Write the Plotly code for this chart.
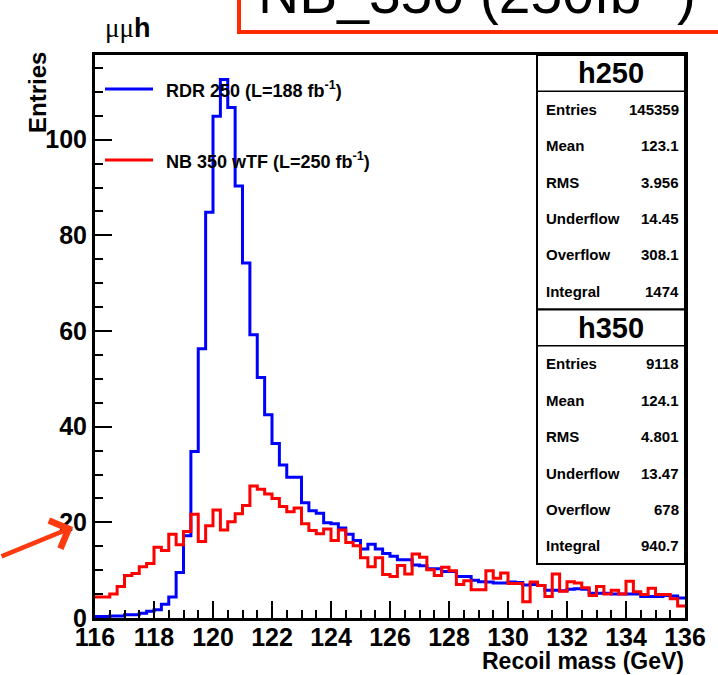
import plotly.graph_objects as go

# ---------------- data ----------------
x_low = 116.0
bin_width = 0.25

h250_rdr = [0.3, 0.3, 0.4, 0.4, 0.7, 0.7, 1.0, 1.4, 1.7, 2.9,
            4.4, 9.5, 17.2, 34.8, 56.3, 84.8, 104.9, 112.6, 106.7, 90.3,
            74.2, 59.2, 50.3, 42.5, 36.5, 32.0, 29.4, 29.4, 24.1, 22.4,
            21.9, 19.9, 19.7, 18.8, 17.5, 16.2, 14.4, 15.4, 14.4, 13.5,
            12.9, 12.2, 12.2, 11.1, 10.9, 10.3, 10.3, 9.7, 9.7, 8.7,
            8.7, 7.9, 7.6, 7.5, 7.3, 7.3, 7.5, 7.4, 6.9, 7.0,
            6.8, 5.8, 5.8, 5.7, 6.0, 6.1, 6.0, 5.2, 5.2, 5.2,
            5.0, 5.0, 5.0, 5.0, 4.5, 4.5, 4.5, 4.7, 4.6, 4.2]

h350_nb = [4.4, 4.4, 5.0, 6.6, 8.9, 9.3, 10.7, 11.4, 14.8, 14.1,
           17.5, 15.3, 18.1, 21.7, 16.0, 19.3, 22.6, 18.4, 20.1, 21.8,
           23.5, 27.6, 26.9, 25.9, 25.0, 23.3, 22.2, 23.0, 19.7, 18.3,
           17.6, 18.6, 16.2, 18.4, 15.8, 15.1, 12.6, 10.7, 12.6, 9.1,
           8.7, 11.0, 9.2, 13.4, 12.7, 10.1, 8.9, 10.6, 9.9, 7.0,
           7.8, 5.9, 5.9, 9.9, 8.3, 9.4, 7.2, 7.2, 3.4, 7.5,
           6.8, 4.5, 9.2, 5.6, 7.6, 7.3, 6.3, 4.7, 6.6, 5.0,
           5.8, 5.0, 7.7, 5.5, 4.9, 6.2, 4.9, 4.9, 4.0, 2.5]

series_names = ["RDR 250 (L=188 fb<sup>-1</sup>)", "NB 350 wTF (L=250 fb<sup>-1</sup>)"]
series_colors = ["#0000ff", "#ff0000"]

stat_labels = ["Entries", "Mean", "RMS", "Underflow", "Overflow", "Integral"]
stats_h250 = ["145359", "123.1", "3.956", "14.45", "308.1", "1474"]
stats_h350 = ["9118", "124.1", "4.801", "13.47", "678", "940.7"]

x_ticks = [116, 118, 120, 122, 124, 126, 128, 130, 132, 134, 136]
y_ticks = [0, 20, 40, 60, 80, 100]

# ---------------- geometry helpers ----------------
W, H = 718, 675
PL, PR, PT, PB = 95, 685, 55, 618


def px(x):
    return (x - PL) / (PR - PL)


def py(y):
    return (PB - y) / (PB - PT)


edges = [x_low + i * bin_width for i in range(len(h250_rdr) + 1)]

fig = go.Figure()
for vals, col in zip([h250_rdr, h350_nb], series_colors):
    fig.add_trace(go.Scatter(x=edges, y=list(vals) + [vals[-1]], mode="lines",
                             line=dict(shape="hv", color=col, width=3),
                             hoverinfo="skip", showlegend=False))

BOLD = "Liberation Sans"
axis_common = dict(showline=True, linewidth=3, linecolor="black", mirror=True,
                   showgrid=False, zeroline=False, ticks="inside", ticklen=17,
                   tickwidth=2, tickcolor="black")

fig.update_layout(
    width=W, height=H,
    margin=dict(l=PL, r=W - PR, t=PT, b=H - PB),
    plot_bgcolor="white", paper_bgcolor="white",
    showlegend=False,
    xaxis=dict(range=[116, 136], tickvals=x_ticks,
               ticktext=[str(v) for v in x_ticks],
               tickfont=dict(family=BOLD, size=25, color="black", weight="bold"),
               ticklabelstandoff=-5,
               minor=dict(dtick=0.5, tick0=116, ticklen=8, tickwidth=2,
                          ticks="inside", tickcolor="black", showgrid=False),
               **axis_common),
    yaxis=dict(range=[0, 117.7], tickvals=y_ticks,
               ticktext=[str(v) for v in y_ticks],
               tickfont=dict(family=BOLD, size=25, color="black", weight="bold"),
               minor=dict(dtick=5, tick0=0, ticklen=8, tickwidth=2,
                          ticks="inside", tickcolor="black", showgrid=False),
               **axis_common),
)

shapes = []
ann = []

# axis titles
ann.append(dict(xref="paper", yref="paper", x=px(686), y=py(661), xanchor="right", yanchor="middle",
                text="Recoil mass (GeV)", showarrow=False,
                font=dict(family=BOLD, size=23, color="black", weight="bold")))
ann.append(dict(xref="paper", yref="paper", x=px(37), y=py(93), xanchor="center", yanchor="middle",
                text="Entries", textangle=-90, showarrow=False,
                font=dict(family=BOLD, size=24, color="black", weight="bold")))

# mu mu h label
ann.append(dict(xref="paper", yref="paper", x=px(103), y=py(28), xanchor="left", yanchor="middle",
                text="<span style='font-family:Liberation Serif;font-weight:normal'>μμ</span><b>h</b>",
                showarrow=False, font=dict(family=BOLD, size=27, color="black")))

# legend (manual, ROOT style)
leg_y = [89, 160]
for name, col, ly in zip(series_names, series_colors, leg_y):
    shapes.append(dict(type="line", xref="paper", yref="paper", x0=px(105), x1=px(153),
                       y0=py(ly), y1=py(ly), line=dict(color=col, width=3)))
    ann.append(dict(xref="paper", yref="paper", x=px(164), y=py(ly), xanchor="left", yanchor="middle",
                    text=name, showarrow=False,
                    font=dict(family=BOLD, size=18, color="black", weight="bold")))

# stats boxes
SX0, SX1 = 537, 685
row_h = 36.35
box_top = 55
for bi, (title, vals) in enumerate([("h250", stats_h250), ("h350", stats_h350)]):
    top = box_top + bi * 7 * row_h
    bot = top + 7 * row_h
    shapes.append(dict(type="rect", xref="paper", yref="paper", x0=px(SX0), x1=px(SX1),
                       y0=py(bot), y1=py(top), fillcolor="white",
                       line=dict(color="black", width=2), layer="above"))
    shapes.append(dict(type="line", xref="paper", yref="paper", x0=px(SX0), x1=px(SX1),
                       y0=py(top + row_h), y1=py(top + row_h),
                       line=dict(color="black", width=1.5), layer="above"))
    ann.append(dict(xref="paper", yref="paper", x=px((SX0 + SX1) / 2), y=py(top + row_h / 2),
                    xanchor="center", yanchor="middle", text=title, showarrow=False,
                    font=dict(family=BOLD, size=29, color="black", weight="bold")))
    for ri, (lab, v) in enumerate(zip(stat_labels, vals)):
        yc = top + (ri + 1.5) * row_h
        ann.append(dict(xref="paper", yref="paper", x=px(SX0 + 7), y=py(yc),
                        xanchor="left", yanchor="middle", text=lab, showarrow=False,
                        font=dict(family=BOLD, size=15, color="black", weight="bold")))
        ann.append(dict(xref="paper", yref="paper", x=px(SX1 - 4), y=py(yc),
                        xanchor="right", yanchor="middle", text=v, showarrow=False,
                        font=dict(family=BOLD, size=15, color="black", weight="bold")))

# top red title box (cut off by the top of the picture)
shapes.append(dict(type="rect", xref="paper", yref="paper", x0=px(239), x1=px(760),
                   y0=py(32), y1=py(-60), fillcolor="rgba(0,0,0,0)",
                   line=dict(color="#ff2a00", width=4)))
ann.append(dict(xref="paper", yref="paper", x=px(256), y=py(-11), xanchor="left", yanchor="middle",
                text="NB_350 (250fb<sup>-1</sup>)", showarrow=False,
                font=dict(family=BOLD, size=57, color="black")))

# red arrow on the left
ann.append(dict(xref="paper", yref="paper", x=px(73), y=py(527), ax=-85, ay=30,
                axref="pixel", ayref="pixel", showarrow=True, arrowhead=4, arrowsize=1.3,
                arrowwidth=4.5, arrowcolor="#ff3a10", text=""))

fig.update_layout(shapes=shapes, annotations=ann)
fig.write_html("out.html")
